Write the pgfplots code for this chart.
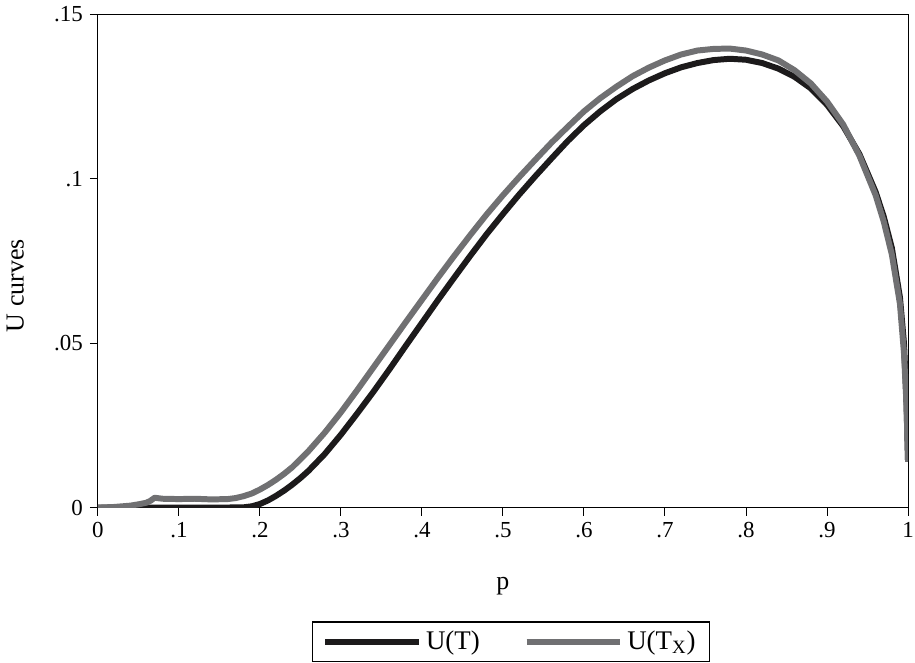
\documentclass[border=0pt]{standalone}
\usepackage{pgfplots}
\usepackage{pgfplotstable}
\pgfplotsset{compat=1.18}
\usepackage{fontspec}
\setmainfont{Liberation Serif}
\definecolor{ublack}{RGB}{28,26,27}
\definecolor{ugray}{RGB}{112,112,114}

% U(T)
\pgfplotstableread{
p u
0 0
0.05 0
0.10 0
0.15 0
0.18 0.0001
0.19 0.0004
0.20 0.0011
0.21 0.0022
0.22 0.0036
0.23 0.0052
0.24 0.0070
0.25 0.0090
0.26 0.0112
0.28 0.0163
0.30 0.0222
0.32 0.0286
0.34 0.0352
0.36 0.0421
0.38 0.0492
0.40 0.0562
0.42 0.0632
0.44 0.0700
0.46 0.0767
0.48 0.0832
0.50 0.0893
0.52 0.0952
0.54 0.1008
0.56 0.1062
0.58 0.1115
0.60 0.1163
0.62 0.1205
0.64 0.1242
0.66 0.1273
0.68 0.1299
0.70 0.1321
0.72 0.1339
0.74 0.1352
0.76 0.1361
0.78 0.1365
0.80 0.1362
0.82 0.1352
0.84 0.1335
0.86 0.1310
0.88 0.1275
0.90 0.1225
0.92 0.1160
0.94 0.1075
0.96 0.0960
0.97 0.0885
0.98 0.0790
0.99 0.0640
0.995 0.0500
0.998 0.0330
1.0 0.0140
}\tabT

% U(T_X)
\pgfplotstableread{
p u
0 0
0.02 0.0002
0.04 0.0006
0.05 0.0010
0.06 0.0015
0.065 0.0021
0.07 0.0030
0.08 0.0027
0.10 0.0026
0.12 0.0027
0.14 0.0025
0.16 0.0026
0.17 0.0029
0.18 0.0035
0.19 0.0043
0.20 0.0055
0.21 0.0069
0.22 0.0085
0.23 0.0103
0.24 0.0123
0.26 0.0172
0.28 0.0228
0.30 0.0290
0.32 0.0357
0.34 0.0426
0.36 0.0495
0.38 0.0564
0.40 0.0632
0.42 0.0700
0.44 0.0766
0.46 0.0830
0.48 0.0892
0.50 0.0950
0.52 0.1005
0.54 0.1058
0.56 0.1110
0.58 0.1158
0.60 0.1205
0.62 0.1245
0.64 0.1280
0.66 0.1312
0.68 0.1338
0.70 0.1360
0.72 0.1378
0.74 0.1390
0.76 0.1395
0.78 0.1396
0.80 0.1390
0.82 0.1378
0.84 0.1360
0.86 0.1330
0.88 0.1290
0.90 0.1235
0.92 0.1165
0.94 0.1070
0.96 0.0950
0.97 0.0870
0.98 0.0770
0.99 0.0620
0.995 0.0470
0.998 0.0320
1.0 0.0140
}\tabTx

\begin{document}
\begin{tikzpicture}[trim right={(R)}]
\begin{axis}[
  width=406.5pt, height=247.5pt, scale only axis,
  xmin=0, xmax=1, ymin=0, ymax=0.15,
  xtick={0,0.1,0.2,0.3,0.4,0.5,0.6,0.7,0.8,0.9,1},
  xticklabels={0,.1,.2,.3,.4,.5,.6,.7,.8,.9,1},
  ytick={0,0.05,0.1,0.15},
  yticklabels={0,.05,.1,.15},
  scaled y ticks=false, scaled x ticks=false,
  tick align=outside, xtick pos=bottom, ytick pos=left,
  major tick length=4pt,
  tick style={black, line width=0.5pt},
  axis line style={line width=0.5pt},
  tick label style={font=\fontsize{11.5}{13}\selectfont},
  label style={font=\fontsize{13}{15}\selectfont},
  xlabel={p}, ylabel={U curves},
  xlabel style={at={(axis description cs:0.5,-0.16)}, anchor=center},
  ylabel style={at={(axis description cs:-0.102,0.45)}, anchor=center},
  legend style={at={(0.51,-0.23)}, anchor=north, legend columns=2,
    draw=black, line width=0.75pt, font=\fontsize{13.5}{15}\selectfont,
    /tikz/every even column/.append style={column sep=20pt},
    inner xsep=5pt, inner ysep=2.5pt},
  legend image code/.code={\draw[#1] (0pt,0pt) -- (47pt,0pt);},
]
\addplot[ublack, line width=3pt, line join=round] table[x=p, y=u] {\tabT};
\addlegendentry{U(T)}
\addplot[ugray, line width=3pt, line join=round] table[x=p, y=u] {\tabTx};
\addlegendentry{U(T\textsubscript{X})\hspace{10pt}}
\end{axis}
\coordinate (R) at ([xshift=3.5pt]current axis.east);
\end{tikzpicture}
\end{document}
